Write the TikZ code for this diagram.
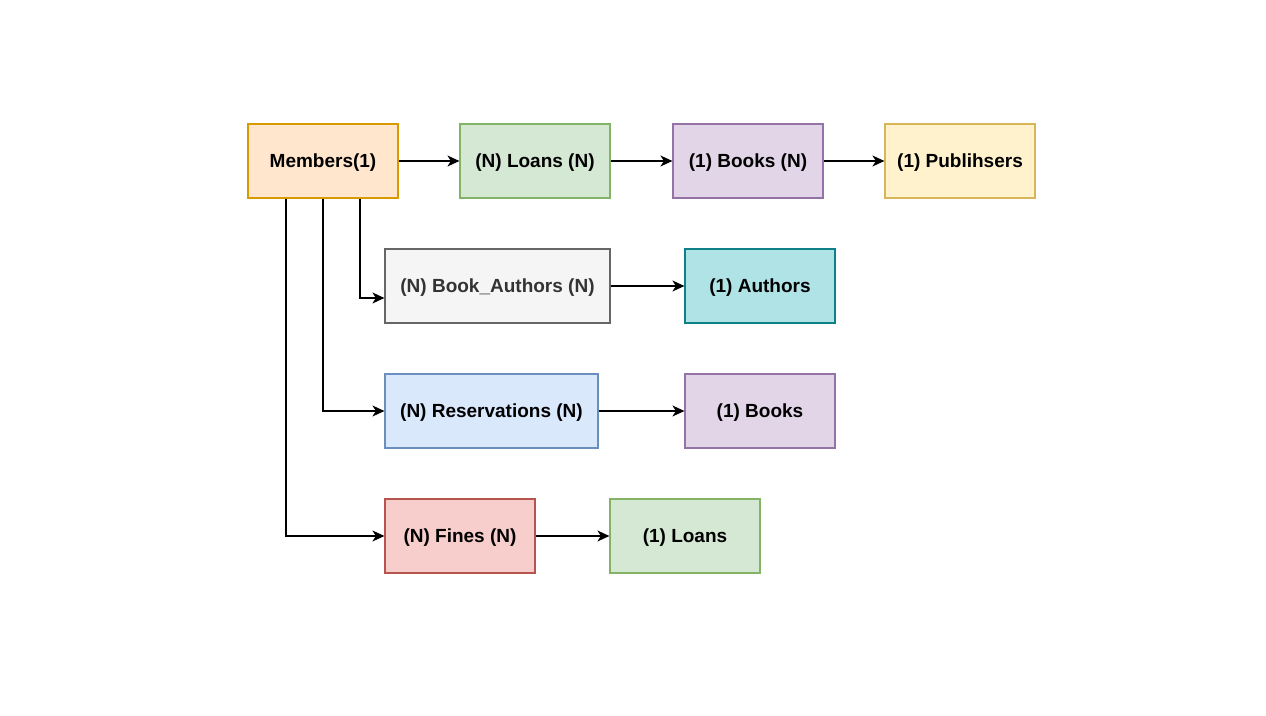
\documentclass[tikz,border=0pt]{standalone}
\usepackage{fontspec}
\setmainfont{Liberation Sans}
\usepackage{tikz}
\usetikzlibrary{arrows.meta}
\definecolor{orangefill}{HTML}{FFE6CC}\definecolor{orangeline}{HTML}{D79B00}
\definecolor{greenfill}{HTML}{D5E8D4}\definecolor{greenline}{HTML}{82B366}
\definecolor{purplefill}{HTML}{E1D5E7}\definecolor{purpleline}{HTML}{9673A6}
\definecolor{yellowfill}{HTML}{FFF2CC}\definecolor{yellowline}{HTML}{D6B656}
\definecolor{grayfill}{HTML}{F5F5F5}\definecolor{grayline}{HTML}{666666}
\definecolor{graytext}{HTML}{333333}
\definecolor{tealfill}{HTML}{B0E3E6}\definecolor{tealline}{HTML}{0E8088}
\definecolor{bluefill}{HTML}{DAE8FC}\definecolor{blueline}{HTML}{6C8EBF}
\definecolor{redfill}{HTML}{F8CECC}\definecolor{redline}{HTML}{B85450}

\begin{document}
\begin{tikzpicture}[x=1pt, y=-1pt,
    table/.style={draw, line width=1.2pt, minimum height=74pt, minimum width=150pt,
      inner sep=0pt, text depth=0pt, font=\fontsize{19}{22}\selectfont\bfseries},
    rel/.style={-{Stealth[length=12pt, width=11pt, inset=3.5pt]}, line width=1.2pt}]
    \useasboundingbox (0, 0) rectangle (1266, 715);
    \node[table, fill=orangefill, draw=orangeline] (members) at (323, 161){Members(1)};
    \node[table, fill=greenfill, draw=greenline] (loans) at (535, 161){(N) Loans (N)};
    \node[table, fill=purplefill, draw=purpleline] (books) at (748, 161){(1) Books (N)};
    \node[table, fill=yellowfill, draw=yellowline] (publishers) at (960, 161){(1) Publihsers};
    \node[table, fill=grayfill, draw=grayline, text=graytext, minimum width=225pt] (bookauthors) at (497.5, 286){(N) Book\_Authors (N)};
    \node[table, fill=tealfill, draw=tealline] (authors) at (760, 286){(1) Authors};
    \node[table, fill=bluefill, draw=blueline, minimum width=213pt] (reservations) at (491.5, 411){(N) Reservations (N)};
    \node[table, fill=purplefill, draw=purpleline] (resbooks) at (760, 411){(1) Books};
    \node[table, fill=redfill, draw=redline] (fines) at (460, 536){(N) Fines (N)};
    \node[table, fill=greenfill, draw=greenline] (fineloans) at (685, 536){(1) Loans};
    \draw[rel] (members)--(loans);
    \draw[rel] (loans)--(books);
    \draw[rel] (books)--(publishers);
    \draw[rel] (bookauthors)--(authors);
    \draw[rel] (reservations)--(resbooks);
    \draw[rel] (fines)--(fineloans);
    \draw[rel] ([xshift=37pt]members.south) |- ([yshift=-12pt]bookauthors.west);
    \draw[rel] (members.south) |- (reservations.west);
    \draw[rel] ([xshift=-37pt]members.south) |- (fines.west);
  \end{tikzpicture}
\end{document}
